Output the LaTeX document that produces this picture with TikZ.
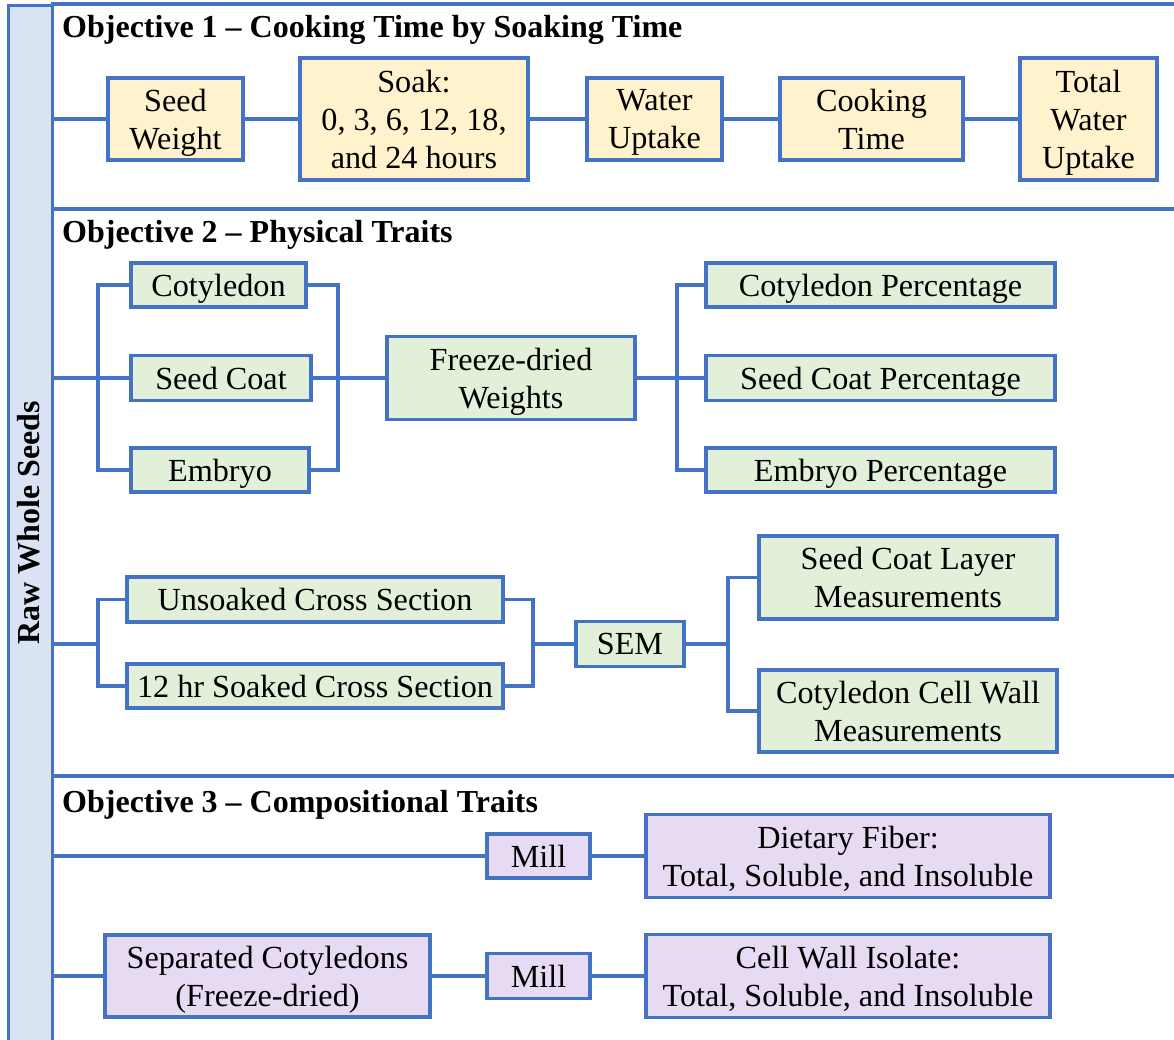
\documentclass[tikz,border=0pt]{standalone}
\usepackage{fontspec}
\setmainfont{Liberation Serif}
\usetikzlibrary{positioning}
\definecolor{edgeblue}{HTML}{4472C4}
\definecolor{barblue}{HTML}{DAE3F3}
\definecolor{soakyellow}{HTML}{FFF2CC}
\definecolor{traitgreen}{HTML}{E2F0D9}
\definecolor{millpurple}{HTML}{E7DBF3}

\begin{document}
\begin{tikzpicture}[x=1pt, y=-1pt]
\tikzset{
    box/.style = {draw=edgeblue, line width=3.2pt, inner sep=0pt, align=center,
                  text depth=0pt, font=\fontsize{32.2}{38}\selectfont},
    boxy/.style = {box, fill=soakyellow},
    boxg/.style = {box, fill=traitgreen},
    boxp/.style = {box, fill=millpurple},
    link/.style = {draw=edgeblue, line width=3.2pt},
    heading/.style = {anchor=base west, inner sep=0pt,
                      font=\fontsize{32}{36}\selectfont\bfseries}
}
\useasboundingbox (0,0) rectangle (1174,1040);
% frame and section lines
\draw[link] (51,4) -- (1190,4);
\draw[link] (51,209) -- (1190,209);
\draw[link] (51,776) -- (1190,776);
\node[draw=edgeblue, line width=3.2pt, fill=barblue, minimum width=44, minimum height=1070,
      anchor=north west] (bar) at (7,4) {};
\node[rotate=90, inner sep=0pt, font=\fontsize{32}{36}\selectfont\bfseries] (raw) at (29,523) {Raw Whole Seeds};

% objective 1
\node[heading] (obj1) at (62,38) {Objective 1 -- Cooking Time by Soaking Time};
\node[boxy, minimum width=135, minimum height=82] at (175.5,119) (sw) {Seed\\Weight};
\node[boxy, minimum width=228, minimum height=122] at (414,119) (soak) {Soak:\\0, 3, 6, 12, 18,\\and 24 hours};
\node[boxy, minimum width=135, minimum height=82] at (654.5,119) (wu) {Water\\Uptake};
\node[boxy, minimum width=183, minimum height=82] at (871.5,119) (ct) {Cooking\\Time};
\node[boxy, minimum width=137, minimum height=122] at (1088.5,119) (twu) {Total\\Water\\Uptake};
\draw[link] (bar.east |- sw) -- (sw.west);
\draw[link] (sw) edge (soak) (soak) edge (wu) (wu) edge (ct) (ct) edge (twu);

% objective 2
\node[heading] (obj2) at (62,243) {Objective 2 -- Physical Traits};
\node[boxg, minimum width=175, minimum height=44] at (218.5,285) (cot) {Cotyledon};
\node[boxg, minimum width=180, minimum height=45] at (221,378) (sc) {Seed Coat};
\node[boxg, minimum width=178, minimum height=44] at (220,470) (emb) {Embryo};
\node[boxg, minimum width=248, minimum height=83] at (511,378) (fdw) {Freeze-dried\\Weights};
\node[boxg, minimum width=349, minimum height=44] at (880.5,285) (cp) {Cotyledon Percentage};
\node[boxg, minimum width=349, minimum height=45] at (880.5,378) (scp) {Seed Coat Percentage};
\node[boxg, minimum width=349, minimum height=44] at (880.5,470) (ep) {Embryo Percentage};
\coordinate (jl1) at (98,378);
\coordinate (jr1) at (338,378);
\coordinate (jr2) at (677,378);
\draw[link] (bar.east |- sc) -- (sc.west);
\draw[link] (cot.west) -| (jl1) |- (emb.west);
\draw[link] (cot.east) -| (jr1) |- (emb.east);
\draw[link] (sc) edge (fdw) (fdw) edge (scp);
\draw[link] (cp.west) -| (jr2) |- (ep.west);

\node[boxg, minimum width=376, minimum height=45] at (315,599.5) (ucs) {Unsoaked Cross Section};
\node[boxg, minimum width=376, minimum height=44] at (315,686) (scs) {12 hr Soaked Cross Section};
\node[boxg, minimum width=108, minimum height=45] at (630,644) (sem) {SEM};
\node[boxg, minimum width=298, minimum height=83] at (908,577.5) (scl) {Seed Coat Layer\\Measurements};
\node[boxg, minimum width=298, minimum height=82] at (908,711) (ccw) {Cotyledon Cell Wall\\Measurements};
\coordinate (jl2) at (98,644);
\coordinate (jr3) at (533,644);
\coordinate (jr4) at (728,644);
\draw[link] (bar.east |- jl2) -- (jl2);
\draw[link] (ucs.west) -| (jl2) |- (scs.west);
\draw[link] (ucs.east) -| (jr3) |- (scs.east);
\draw[link] (jr3) -- (sem.west);
\draw[link] (sem.east) -- (jr4);
\draw[link] (scl.west) -| (jr4) |- (ccw.west);

% objective 3
\node[heading] (obj3) at (62,812) {Objective 3 -- Compositional Traits};
\node[boxp, minimum width=103, minimum height=44] at (538.5,856) (mill1) {Mill};
\node[boxp, minimum width=404, minimum height=83] at (848,856) (df) {Dietary Fiber:\\Total, Soluble, and Insoluble};
\node[boxp, minimum width=325, minimum height=82] at (267.5,976) (sep) {Separated Cotyledons\\(Freeze-dried)};
\node[boxp, minimum width=103, minimum height=45] at (538.5,976) (mill2) {Mill};
\node[boxp, minimum width=404, minimum height=83] at (848,976) (cwi) {Cell Wall Isolate:\\Total, Soluble, and Insoluble};
\draw[link] (bar.east |- mill1) -- (mill1.west);
\draw[link] (mill1) edge (df);
\draw[link] (bar.east |- sep) -- (sep.west);
\draw[link] (sep) edge (mill2) (mill2) edge (cwi);
\end{tikzpicture}
\end{document}
